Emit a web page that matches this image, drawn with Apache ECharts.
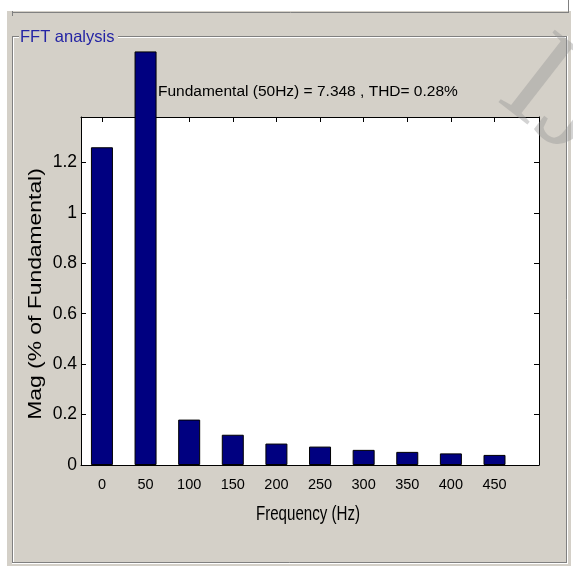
<!DOCTYPE html>
<html><head><meta charset="utf-8">
<script src="https://cdn.jsdelivr.net/npm/echarts@6/dist/echarts.min.js"></script>
<style>html,body{margin:0;padding:0;background:#fff}#c{width:573px;height:567px}</style>
</head><body><div id="c"></div>
<script>
const freqs = [0, 50, 100, 150, 200, 250, 300, 350, 400, 450];
const mags = [1.26, 1.64, 0.18, 0.12, 0.085, 0.073, 0.06, 0.052, 0.046, 0.04];
const yTicks = [0, 0.2, 0.4, 0.6, 0.8, 1, 1.2];
const titleText = 'Fundamental (50Hz) = 7.348 , THD= 0.28%';
const panelTitle = 'FFT analysis';
const xName = 'Frequency (Hz)';
const yName = 'Mag (% of Fundamental)';
const watermark = 'IJIRSET';

const RF = '"Liberation Sans", Arial, sans-serif';

const chart = echarts.init(document.getElementById('c'), null, {renderer: 'canvas'});
const dark = '#808080', light = '#ffffff';
function ln(x1, y1, x2, y2, c) {
  return {type: 'line', z: -5, silent: true, shape: {x1, y1, x2, y2}, style: {stroke: c, lineWidth: 1}};
}
const tickCommon = {show: true, inside: true, length: 5, lineStyle: {color: '#000', width: 1}};

chart.setOption({
  backgroundColor: '#ffffff',
  animation: false,
  title: {
    text: titleText, left: 158, top: 84, padding: 0,
    textStyle: {fontFamily: RF, fontSize: 15.5, fontWeight: 'normal', color: '#000'}
  },
  grid: {left: 81, right: 34, top: 117, bottom: 102, containLabel: false},
  xAxis: [{
    type: 'value', min: -24, max: 501, position: 'bottom',
    axisLine: {show: true, onZero: false, lineStyle: {color: '#000', width: 1}},
    axisTick: Object.assign({customValues: freqs}, tickCommon),
    axisLabel: {customValues: freqs, color: '#000', fontFamily: RF, fontSize: 14.5, margin: 12},
    splitLine: {show: false}
  }, {
    type: 'value', min: -24, max: 501, position: 'top',
    axisLine: {show: true, onZero: false, lineStyle: {color: '#000', width: 1}},
    axisTick: Object.assign({customValues: freqs}, tickCommon),
    axisLabel: {show: false},
    splitLine: {show: false}
  }],
  yAxis: [{
    type: 'value', min: 0, max: 1.38, position: 'left',
    axisLine: {show: true, onZero: false, lineStyle: {color: '#000', width: 1}},
    axisTick: Object.assign({customValues: yTicks}, tickCommon),
    axisLabel: {customValues: yTicks, color: '#000', fontFamily: RF, fontSize: 17.5, margin: 4,
      formatter: v => String(+(+v).toFixed(1))},
    splitLine: {show: false}
  }, {
    type: 'value', min: 0, max: 1.38, position: 'right',
    axisLine: {show: true, onZero: false, lineStyle: {color: '#000', width: 1}},
    axisTick: Object.assign({customValues: yTicks}, tickCommon),
    axisLabel: {show: false},
    splitLine: {show: false}
  }],
  series: [{
    type: 'bar', xAxisIndex: 0, yAxisIndex: 0,
    data: freqs.map((f, i) => [f, mags[i]]),
    barWidth: 22, clip: false,
    itemStyle: {color: '#000080', borderColor: '#000', borderWidth: 1}
  }],
  graphic: {elements: [
    {type: 'rect', z: -10, silent: true, shape: {x: 7, y: 11, width: 564, height: 555}, style: {fill: '#d4d0c8'}},
    {type: 'rect', z: -9, silent: true, shape: {x: 81, y: 117, width: 458, height: 348}, style: {fill: '#ffffff'}},
    ln(12, 12.5, 569, 12.5, dark), ln(568.5, 0, 568.5, 13, dark), ln(12.5, 11, 12.5, 16, dark),
    ln(12, 36.5, 19, 36.5, dark), ln(118, 36.5, 567, 36.5, dark),
    ln(13, 37.5, 19, 37.5, light), ln(118, 37.5, 566, 37.5, light),
    ln(12.5, 36, 12.5, 563, dark), ln(13.5, 37, 13.5, 562, light),
    ln(12, 562.5, 567, 562.5, dark), ln(12, 563.5, 568, 563.5, light),
    ln(566.5, 36, 566.5, 563, dark), ln(567.5, 36, 567.5, 564, light),
    {type: 'text', z: -4, silent: true, x: 20, y: 37,
      style: {text: panelTitle, fill: '#2424a4', font: '16.5px ' + RF, verticalAlign: 'middle', align: 'left'}},
    {type: 'text', z: 5, silent: true, x: 308, y: 514, scaleX: 0.72,
      style: {text: xName, fill: '#000', font: '21px ' + RF, verticalAlign: 'middle', align: 'center'}},
    {type: 'text', z: 5, silent: true, x: 36, y: 294, rotation: Math.PI / 2, scaleX: 1.27,
      style: {text: yName, fill: '#000', font: '18px ' + RF, verticalAlign: 'middle', align: 'center'}},
    {type: 'text', z: 100, silent: true, x: 517, y: 70, rotation: -0.66,
      style: {text: watermark, fill: 'rgba(150,150,150,0.42)', font: '140px "Liberation Serif"', verticalAlign: 'middle', align: 'left'}}
  ]}
});
</script></body></html>
